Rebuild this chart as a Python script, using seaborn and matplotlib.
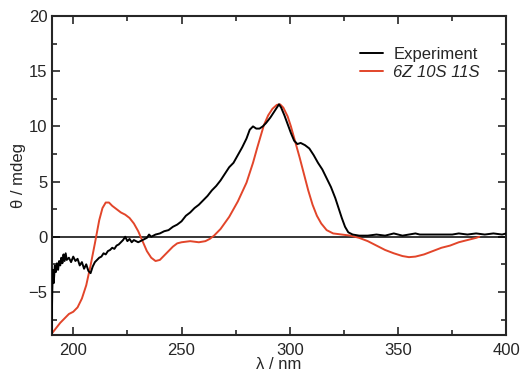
import numpy as np
import pandas as pd
import matplotlib
matplotlib.use("Agg")
import matplotlib.pyplot as plt
from matplotlib.ticker import MultipleLocator
import seaborn as sns

exp_wl = [190.0, 190.3, 190.6, 191.0, 191.5, 192.0, 192.5, 193.0, 193.5, 194.0,
          194.5, 195.0, 195.5, 196.0, 196.5, 197.0, 198.0, 199.0, 200.0, 201.0,
          202.0, 203.0, 204.0, 205.0, 206.0, 207.0, 208.0, 209.0, 210.0, 211.0,
          212.0, 213.0, 214.0, 215.0, 216.0, 217.0, 218.0, 219.0, 220.0, 221.0,
          222.0, 223.0, 224.0, 225.0, 226.0, 227.0, 228.0, 229.0, 230.0, 231.0,
          232.0, 233.0, 234.0, 235.0, 236.0, 237.0, 238.0, 240.0, 242.0, 244.0,
          246.0, 248.0, 250.0, 252.0, 254.0, 256.0, 258.0, 260.0, 262.0, 264.0,
          266.0, 268.0, 270.0, 272.0, 274.0, 276.0, 278.0, 280.0, 281.5, 283.0,
          284.5, 286.0, 287.5, 289.0, 291.0, 293.0, 295.0, 296.0, 297.5, 299.0,
          300.5, 302.0, 303.5, 305.0, 307.0, 309.0, 311.0, 313.0, 315.0, 317.0,
          319.0, 321.0, 322.5, 324.0, 325.5, 327.0, 329.0, 332.0, 336.0, 340.0,
          344.0, 346.0, 348.0, 350.0, 352.0, 355.0, 358.0, 360.0, 365.0, 370.0,
          375.0, 378.0, 382.0, 386.0, 390.0, 394.0, 398.0, 400.0]
exp_theta = [-8.8, -5.0, -3.0, -4.2, -2.6, -3.2, -2.4, -3.0, -2.2, -2.6,
             -1.9, -2.4, -1.6, -2.2, -1.5, -2.1, -1.9, -2.3, -1.8, -2.2,
             -2.0, -2.6, -2.3, -2.9, -2.5, -3.1, -3.3, -2.7, -2.3, -2.1,
             -1.9, -1.8, -1.5, -1.6, -1.3, -1.2, -1.0, -1.1, -0.8, -0.7,
             -0.5, -0.3, 0.0, -0.4, -0.2, -0.5, -0.3, -0.4, -0.5, -0.4,
             -0.3, -0.2, -0.1, 0.2, 0.0, 0.1, 0.2, 0.3, 0.5, 0.6,
             0.9, 1.1, 1.4, 1.9, 2.2, 2.6, 2.9, 3.3, 3.7, 4.2,
             4.6, 5.1, 5.7, 6.3, 6.7, 7.4, 8.1, 8.9, 9.7, 10.0,
             9.8, 9.8, 10.0, 10.3, 10.8, 11.4, 12.0, 11.7, 11.0, 10.2,
             9.4, 8.7, 8.4, 8.5, 8.3, 8.0, 7.4, 6.7, 6.1, 5.3,
             4.5, 3.5, 2.6, 1.7, 0.9, 0.4, 0.2, 0.1, 0.1, 0.2,
             0.1, 0.2, 0.3, 0.2, 0.1, 0.2, 0.3, 0.2, 0.2, 0.2,
             0.2, 0.3, 0.2, 0.3, 0.2, 0.3, 0.2, 0.3]

# Calculated spectrum for 6Z 10S 11S
calc_wl = [190.0, 192.0, 194.0, 196.0, 198.0, 200.0, 202.0, 204.0, 206.0, 208.0,
           210.0, 212.0, 213.5, 215.0, 216.5, 218.0, 220.0, 222.0, 224.0, 226.0,
           228.0, 230.0, 232.0, 234.0, 236.0, 238.0, 240.0, 242.0, 244.0, 246.0,
           248.0, 250.0, 254.0, 258.0, 261.0, 263.0, 265.0, 268.0, 272.0, 276.0,
           280.0, 283.0, 285.0, 288.0, 290.0, 292.0, 294.0, 295.5, 297.0, 299.0,
           300.5, 302.5, 304.5, 306.5, 308.5, 310.5, 312.5, 314.5, 317.0, 320.0,
           324.0, 328.0, 332.0, 336.0, 340.0, 344.0, 348.0, 352.0, 355.0, 358.0,
           362.0, 366.0, 370.0, 374.0, 378.0, 382.0, 386.0, 387.5]
calc_theta = [-8.8, -8.3, -7.8, -7.4, -7.0, -6.8, -6.4, -5.6, -4.4, -2.6,
              -0.6, 1.5, 2.6, 3.1, 3.1, 2.8, 2.5, 2.2, 2.0, 1.7,
              1.2, 0.5, -0.4, -1.3, -1.9, -2.2, -2.1, -1.7, -1.3, -0.9,
              -0.6, -0.5, -0.4, -0.5, -0.4, -0.2, 0.1, 0.7, 1.8, 3.2,
              4.9, 6.7, 8.1, 10.1, 11.0, 11.6, 11.95, 12.0, 11.7, 10.9,
              10.0, 8.6, 7.2, 5.7, 4.2, 2.9, 1.9, 1.2, 0.6, 0.3,
              0.2, 0.1, -0.1, -0.4, -0.8, -1.2, -1.5, -1.75, -1.85, -1.8,
              -1.6, -1.3, -1.0, -0.8, -0.5, -0.3, -0.1, 0.0]

sns.set_style("ticks")
plt.rcParams["font.family"] = ["Liberation Sans", "DejaVu Sans"]

df_exp = pd.DataFrame({"wl": exp_wl, "theta": exp_theta})
df_calc = pd.DataFrame({"wl": calc_wl, "theta": calc_theta})

fig = plt.figure(figsize=(5.21, 3.73), dpi=100)
ax = fig.add_axes([0.099, 0.102, 0.873, 0.855])

ax.axhline(0, color="black", lw=1.1, zorder=1)
sns.lineplot(data=df_exp, x="wl", y="theta", sort=False, color="black",
             lw=1.4, label="Experiment", ax=ax, zorder=3)
sns.lineplot(data=df_calc, x="wl", y="theta", sort=False, color="#e2452a",
             lw=1.4, label="6Z 10S 11S", ax=ax, zorder=2)

ax.set_xlim(190, 400)
ax.set_ylim(-8.9, 20)
ax.xaxis.set_major_locator(MultipleLocator(50))
ax.xaxis.set_minor_locator(MultipleLocator(25))
ax.yaxis.set_major_locator(MultipleLocator(5))
ax.yaxis.set_minor_locator(MultipleLocator(2.5))
ax.tick_params(which="both", direction="in", top=True, right=True,
               labelsize=12, width=1.2)
ax.tick_params(which="major", length=6)
ax.tick_params(axis="x", which="major", pad=6)
ax.tick_params(axis="y", which="major", pad=3)
ax.tick_params(which="minor", length=3.5)
for s in ax.spines.values():
    s.set_linewidth(1.5)

ax.set_xlabel("λ / nm", fontsize=12, labelpad=-1)
ax.set_ylabel("θ / mdeg", fontsize=12, labelpad=2)

leg = ax.legend(loc="upper right", frameon=False, fontsize=12,
                handlelength=1.4, handletextpad=0.6, labelspacing=0.2,
                bbox_to_anchor=(0.975, 0.95))
leg.get_texts()[1].set_fontstyle("italic")

fig.savefig("out.png", dpi=100)
